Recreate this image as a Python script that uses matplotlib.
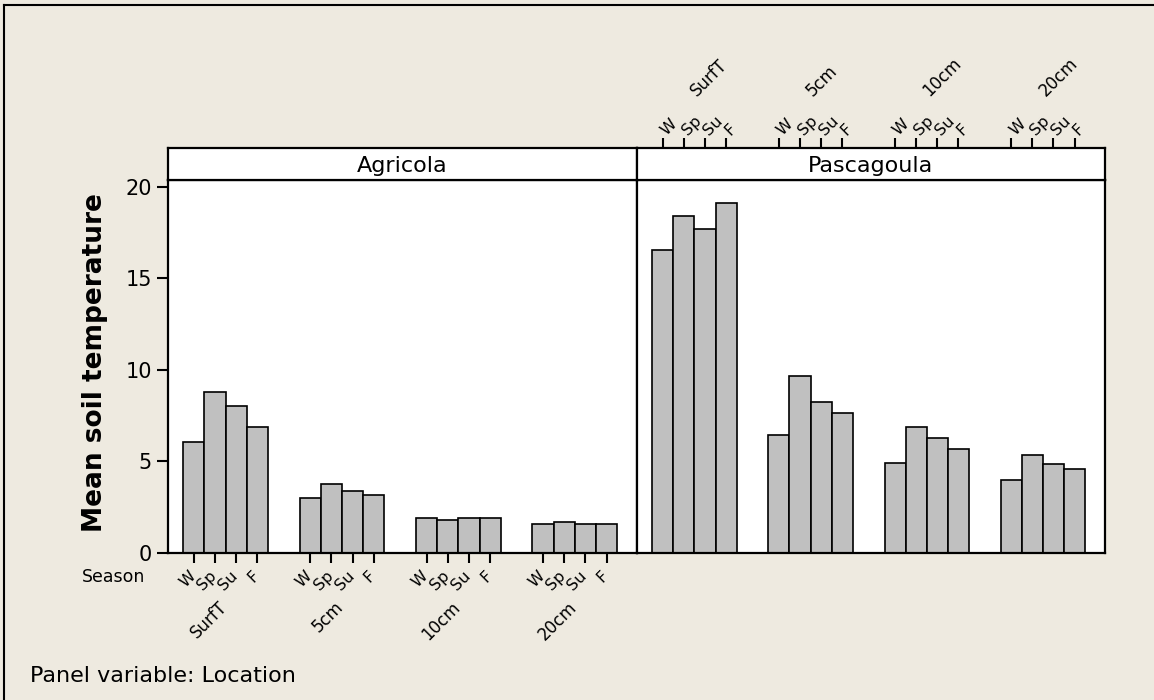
import numpy as np
import matplotlib.pyplot as plt
import matplotlib.transforms as mtransforms
from matplotlib.lines import Line2D

# data
locations = ['Agricola', 'Pascagoula']
depths = ['SurfT', '5cm', '10cm', '20cm']
seasons = ['W', 'Sp', 'Su', 'F']
agricola = [[6.07, 8.77, 8.05, 6.87],
            [3.00, 3.77, 3.39, 3.19],
            [1.91, 1.79, 1.91, 1.91],
            [1.58, 1.69, 1.58, 1.58]]
pascagoula = [[16.52, 18.42, 17.70, 19.11],
              [6.47, 9.66, 8.25, 7.67],
              [4.89, 6.87, 6.28, 5.68],
              [3.99, 5.36, 4.86, 4.59]]

W, H = 1154, 700
bg = '#EEEAE0'
bar_col = '#C0C0C0'
gap = 5.5
xlim = (-1.22, 20.94)
ylim = (0, 20.37)


def px(x0, y0, x1, y1):
    return [x0 / W, 1 - y1 / H, (x1 - x0) / W, (y1 - y0) / H]


fig = plt.figure(figsize=(W / 100, H / 100), dpi=100, facecolor=bg)

pos = np.array([g * gap + s for g in range(len(depths)) for s in range(len(seasons))])
centers = np.array([g * gap + 1.5 for g in range(len(depths))])
ticklabels = seasons * len(depths)

ax1 = fig.add_axes(px(168, 180, 637, 553))
ax2 = fig.add_axes(px(637, 180, 1105, 553))
s1 = fig.add_axes(px(168, 148, 637, 180))
s2 = fig.add_axes(px(637, 148, 1105, 180))

for ax, vals in [(ax1, agricola), (ax2, pascagoula)]:
    ax.bar(pos, np.ravel(vals), width=1.0, color=bar_col, edgecolor='black', linewidth=1.2)
    ax.set_xlim(*xlim)
    ax.set_ylim(*ylim)
    for sp in ax.spines.values():
        sp.set_linewidth(1.6)

for s, name in [(s1, locations[0]), (s2, locations[1])]:
    s.set_xlim(*xlim)
    s.set_yticks([])
    s.text(0.5, 0.45, name, transform=s.transAxes, ha='center', va='center', fontsize=16)
    for sp in s.spines.values():
        sp.set_linewidth(1.6)

s1.set_xticks([])

# left panel axes
ax1.set_yticks([0, 5, 10, 15, 20])
ax1.tick_params(axis='y', labelsize=15, length=8, width=1.5)
ax1.set_xticks(pos)
ax1.set_xticklabels(ticklabels, rotation=45, ha='right', rotation_mode='anchor', fontsize=11.5)
ax1.tick_params(axis='x', length=7, width=1.5, pad=4)
shift = mtransforms.ScaledTranslation(-6 / 100, 0, fig.dpi_scale_trans)
for lab in ax1.get_xticklabels():
    lab.set_transform(lab.get_transform() + shift)
trans1 = mtransforms.blended_transform_factory(ax1.transData, ax1.transAxes)
for c, d in zip(centers, depths):
    ax1.text(c - 0.35, -0.12, d, transform=trans1, rotation=45, ha='right', va='top',
             rotation_mode='anchor', fontsize=12)

ax2.set_xticks([])
ax2.set_yticks([])

# right panel: axis on top of strip
s2.set_xticks(pos)
s2.xaxis.tick_top()
s2.set_xticklabels(ticklabels, rotation=45, ha='left', rotation_mode='anchor', fontsize=11.5)
s2.tick_params(axis='x', length=7, width=1.5, pad=4)
shift2 = mtransforms.ScaledTranslation(6 / 100, -5 / 100, fig.dpi_scale_trans)
for lab in s2.get_xticklabels():
    lab.set_transform(lab.get_transform() + shift2)
trans2 = mtransforms.blended_transform_factory(s2.transData, s2.transAxes)
for c, d in zip(centers, depths):
    s2.text(c + 0.25, 2.5, d, transform=trans2, rotation=45, ha='left', va='bottom',
            rotation_mode='anchor', fontsize=12)

fig.text(95 / W, 1 - 363 / H, 'Mean soil temperature', rotation=90, ha='center', va='center',
         fontsize=19, fontweight='bold')
fig.text(145 / W, 1 - 577 / H, 'Season', ha='right', va='center', fontsize=12.5)
fig.text(30 / W, 1 - 676 / H, 'Panel variable: Location', ha='left', va='center', fontsize=16)

# frame lines on top and left
fig.add_artist(Line2D([4 / W, 4 / W], [0, 1 - 5 / H], transform=fig.transFigure, color='black', lw=1.5))
fig.add_artist(Line2D([4 / W, 1], [1 - 5 / H, 1 - 5 / H], transform=fig.transFigure, color='black', lw=1.5))

fig.savefig('out.png', dpi=100, facecolor=bg)
